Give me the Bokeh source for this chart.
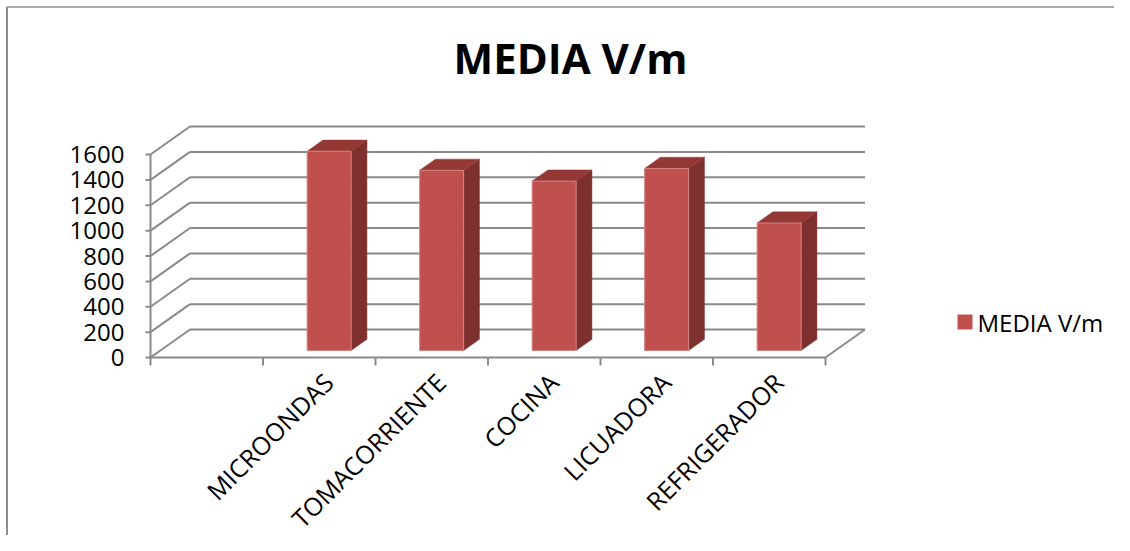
import math
from bokeh.plotting import figure
from bokeh.models import Range1d
from bokeh.core.properties import value
from bokeh.embed import file_html
from bokeh.resources import INLINE

# ---- data ----
categories = ["MICROONDAS", "TOMACORRIENTE", "COCINA", "LICUADORA", "REFRIGERADOR"]
media_vm = [1570, 1420, 1335, 1435, 1005]
y_ticks = [0, 200, 400, 600, 800, 1000, 1200, 1400, 1600]
title_text = "MEDIA V/m"
series_name = "MEDIA V/m"

# ---- layout (picture pixels -> data units) ----
W, H = 1114, 535
SLOT_PX = 112.5          # width of a category slot in px
VAL_PX = 203.0 / 1600    # px per value unit
ORIGIN_X, ORIGIN_Y = 150, 357  # px of front-left floor corner
N_SLOTS = len(categories) + 1  # first slot is empty
FIRST = 1


def X(px):
    return (px - ORIGIN_X) / SLOT_PX


def Y(py):
    return (ORIGIN_Y - py) / VAL_PX


DX = 39.5 / SLOT_PX      # depth offset (slots)
DY = 28.0 / VAL_PX       # depth offset (value units)
F1, F2 = 0.25, 0.65      # bar depth fractions
BAR_W = 44.0 / SLOT_PX

FONT = value("Open Sans")
GRID = "#8a8a8a"

p = figure(width=W, height=H, output_backend="svg", toolbar_location=None,
           x_range=Range1d(X(0), X(W)), y_range=Range1d(Y(H), Y(0)),
           x_axis_location=None, y_axis_location=None, min_border=0,
           background_fill_color="white", border_fill_color="white")
p.outline_line_color = None
p.grid.visible = False

# chart border (left & top)
p.line(x=[X(6.5), X(6.5)], y=[Y(6.5), Y(H)], line_color="#8c8c8c", line_width=2)
p.line(x=[X(6.5), X(W)], y=[Y(6.5), Y(6.5)], line_color="#8c8c8c", line_width=1.5)

# back wall gridlines
p.segment(x0=[DX] * len(y_ticks), y0=[v + DY for v in y_ticks],
          x1=[N_SLOTS + DX] * len(y_ticks), y1=[v + DY for v in y_ticks],
          line_color=GRID, line_width=2)
# left wall slanted gridlines
p.segment(x0=[0] * len(y_ticks), y0=y_ticks,
          x1=[DX] * len(y_ticks), y1=[v + DY for v in y_ticks],
          line_color=GRID, line_width=2)
# floor front and right edges
p.segment(x0=[0, N_SLOTS], y0=[0, 0], x1=[N_SLOTS, N_SLOTS + DX], y1=[0, DY],
          line_color=GRID, line_width=2)
# vertical value axis
p.segment(x0=[0], y0=[0], x1=[0], y1=[max(y_ticks)], line_color=GRID, line_width=2)
# value ticks
tick_len = 5 / SLOT_PX
p.segment(x0=[-tick_len] * len(y_ticks), y0=y_ticks, x1=[0] * len(y_ticks), y1=y_ticks,
          line_color=GRID, line_width=2)
# category ticks
cat_ticks = list(range(N_SLOTS + 1))
p.segment(x0=cat_ticks, y0=[0] * len(cat_ticks), x1=cat_ticks,
          y1=[-8 / VAL_PX] * len(cat_ticks), line_color=GRID, line_width=2)

# bars
fx, fy, sx, sy, tx, ty = [], [], [], [], [], []
for i, v in enumerate(media_vm):
    c = FIRST + i + 0.5
    xl = c - BAR_W / 2 + F1 * DX
    xr = c + BAR_W / 2 + F1 * DX
    yb = F1 * DY
    yt = F1 * DY + v
    ddx = (F2 - F1) * DX
    ddy = (F2 - F1) * DY
    fx.append([xl, xr, xr, xl]); fy.append([yb, yb, yt, yt])
    sx.append([xr, xr + ddx, xr + ddx, xr]); sy.append([yb, yb + ddy, yt + ddy, yt])
    tx.append([xl, xr, xr + ddx, xl + ddx]); ty.append([yt, yt, yt + ddy, yt + ddy])

p.patches(xs=sx, ys=sy, fill_color="#7d302e", line_color="#7d302e", line_width=0.5)
p.patches(xs=tx, ys=ty, fill_color="#943836", line_color="#943836", line_width=0.5)
p.patches(xs=fx, ys=fy, fill_color="#c0504d", line_color="#d48583", line_width=1)

# value tick labels
p.text(x=[X(124)] * len(y_ticks), y=y_ticks, text=[str(t) for t in y_ticks],
       text_font=FONT, text_font_size="24px", text_color="black",
       text_align="right", text_baseline="middle")

# category labels
p.text(x=[FIRST + i + 0.5 + X(150 + 9) for i in range(len(categories))],
       y=[Y(357 + 20)] * len(categories), text=categories,
       text_font=FONT, text_font_size="25px", text_color="black",
       text_align="right", text_baseline="middle", angle=math.pi / 4)

# title
p.text(x=[X(570)], y=[Y(57)], text=[title_text], text_font=FONT,
       text_font_size="42px", text_font_style="bold", text_color="black",
       text_align="center", text_baseline="middle")

# legend
p.rect(x=[X(964.5)], y=[Y(321.5)], width=15 / SLOT_PX, height=15 / VAL_PX,
       fill_color="#c0504d", line_color=None)
p.text(x=[X(977)], y=[Y(322)], text=[series_name], text_font=FONT,
       text_font_size="24px", text_color="black", text_align="left",
       text_baseline="middle")

open("out.html", "w").write(file_html(p, INLINE))
